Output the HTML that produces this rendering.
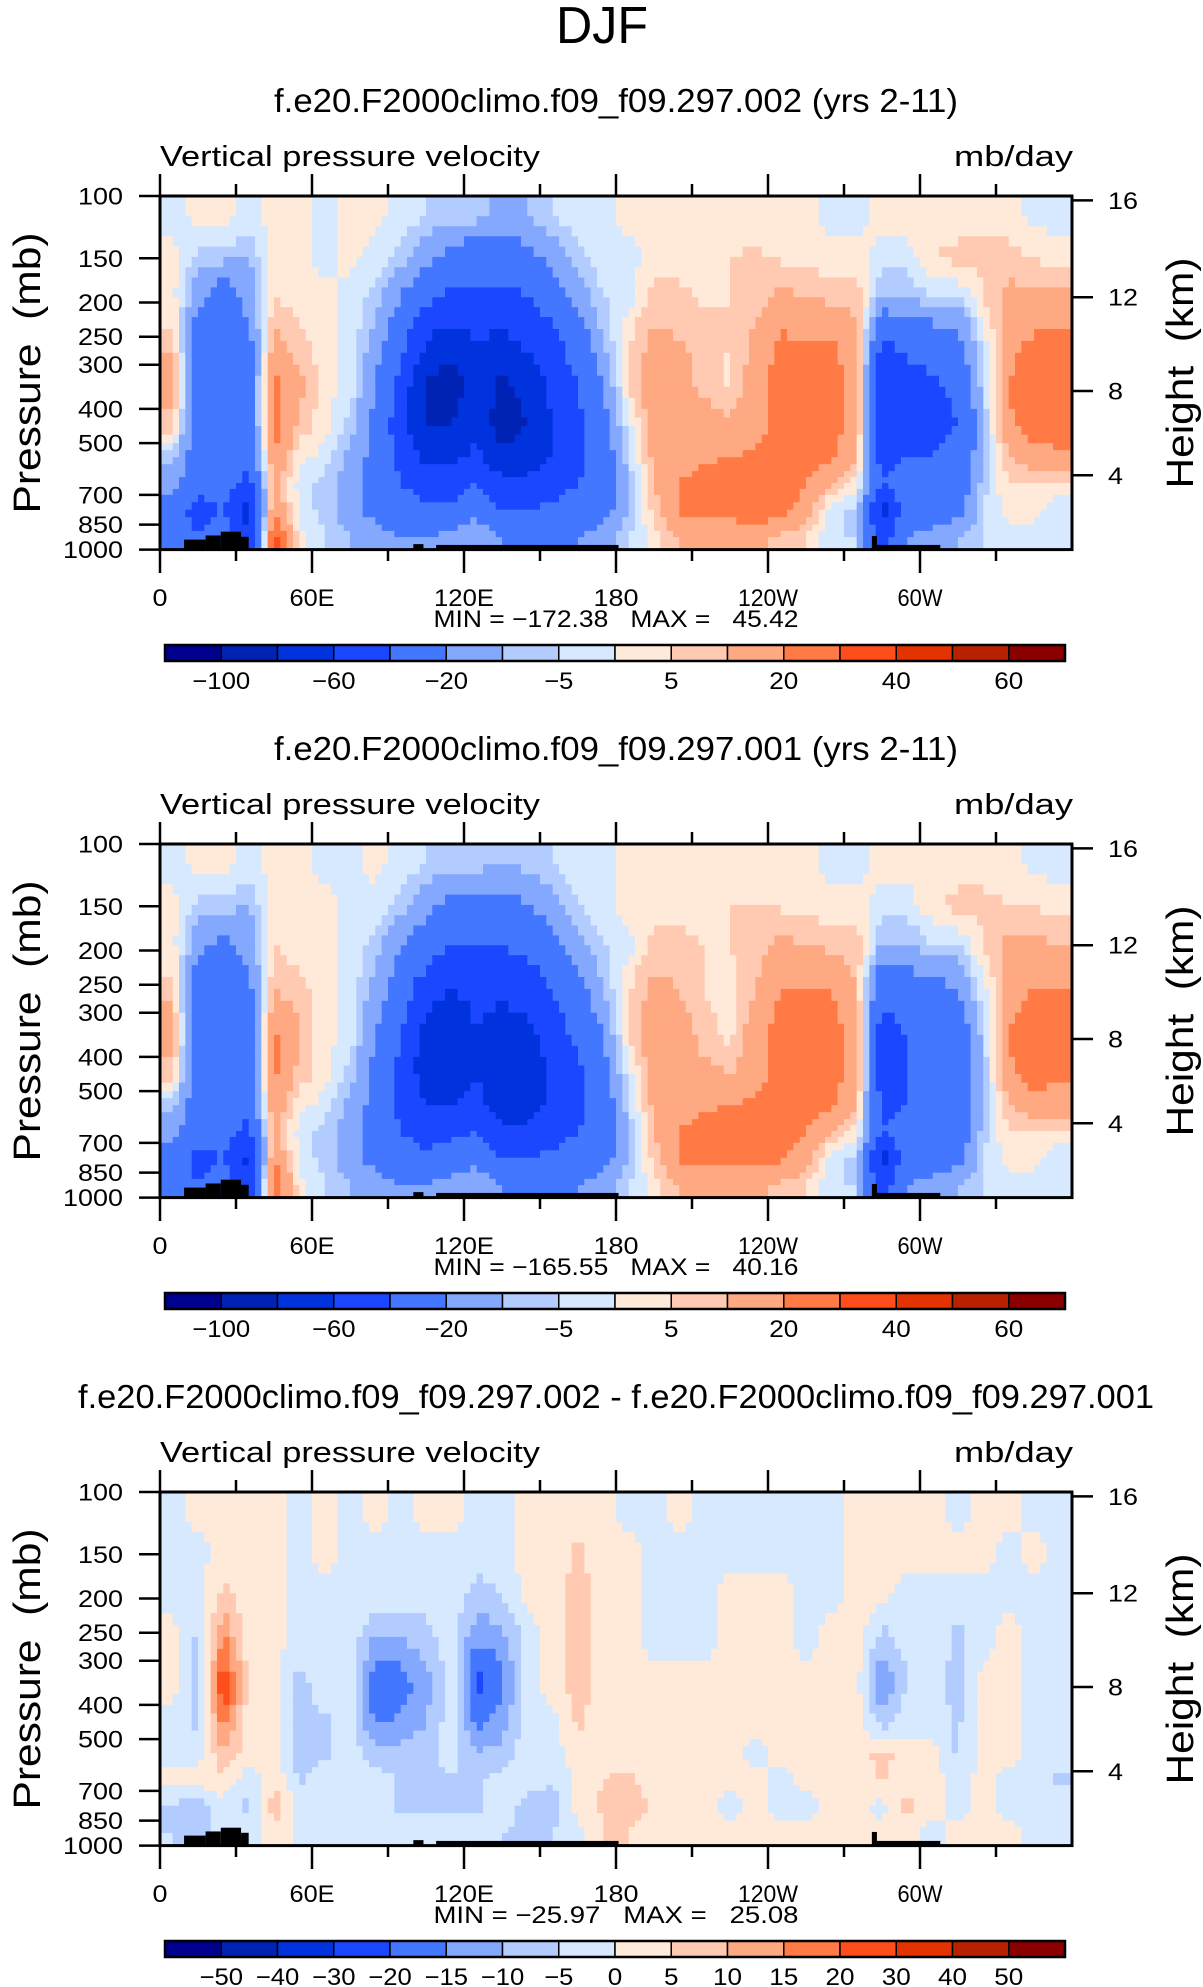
<!DOCTYPE html>
<html><head><meta charset="utf-8"><style>
html,body{margin:0;padding:0;background:#fff}
svg{display:block}
text{font-family:"Liberation Sans",sans-serif;fill:#000;white-space:pre}
</style></head><body>
<svg id="page" width="1203" height="1987" viewBox="0 0 1203 1987" xmlns="http://www.w3.org/2000/svg">
<text x="602" y="43" font-size="52" text-anchor="middle" textLength="92" lengthAdjust="spacingAndGlyphs">DJF</text>
</svg>
<script>
// ---------- data ----------
const lonTickValues = [0, 60, 120, 180, 240, 300];
const lonTickLabels = ["0", "60E", "120E", "180", "120W", "60W"];
const lonMinorTicks = [30, 90, 150, 210, 270, 330];
const pressureTicks = [100, 150, 200, 250, 300, 400, 500, 700, 850, 1000];
const heightTicks = [16, 12, 8, 4];
const rowPressureEdges = [100, 130, 170, 220, 300, 400, 500, 600, 700, 850, 1000];
const colorPalette = ["#00008f","#0022b5","#0033dd","#1a47ff","#4477ff","#85a8ff","#b3ccff","#d6e9ff","#ffe9d8","#ffcab1","#ffa982","#ff7a44","#ff4e1c","#e33300","#b82200","#8a0000"];
const levelsAbs = [-100,-80,-60,-40,-20,-10,-5,0,5,10,20,30,40,50,60];
const levelsAbsLabels = ["-100","","-60","","-20","","-5","","5","","20","","40","","60"];
const levelsDiff = [-50,-40,-30,-20,-15,-10,-5,0,5,10,15,20,30,40,50];
const levelsDiffLabels = ["-50","-40","-30","-20","-15","-10","-5","0","5","10","15","20","30","40","50"];
// topography segments: [lonStart, lonEnd, topPressure]
const topography = [[9.5,18,937],[18,24,912],[24,32,890],[32,35,920],[100,104,965],[109,181,970],[281,283,915],[283,308,970]];
const titles = ["f.e20.F2000climo.f09_f09.297.002 (yrs 2-11)","f.e20.F2000climo.f09_f09.297.001 (yrs 2-11)","f.e20.F2000climo.f09_f09.297.002 - f.e20.F2000climo.f09_f09.297.001"];
const minValues = ["-172.38","-165.55","-25.97"];
const maxValues = ["45.42","40.16","25.08"];
// field grids: 36 columns (10 deg) per pressure row, rows top(100mb) -> bottom(1000mb)
const field1 = [
[-2,2,2,-2,2,2,-2,2,2,-2,-5,-7,-7,-12,-10,-5,-2,-2,2,2,2,2,2,2,2,2,-2,-2,2,2,2,2,2,2,-2,-2],
[2,-7,-7,-10,2,2,-2,2,-2,-7,-15,-25,-30,-30,-25,-15,-7,-2,-2,2,2,2,5,6,4,3,2,3,-2,-2,5,7,7,7,5,2],
[2,-15,-30,-15,5,2,2,-2,-7,-20,-35,-45,-45,-45,-40,-30,-15,-5,-2,7,7,4,5,7,12,10,8,8,-10,-10,-5,-5,5,12,12,12],
[7,-30,-30,-25,12,7,2,-2,-12,-35,-60,-70,-60,-65,-55,-45,-30,-10,5,12,10,7,5,12,22,20,22,12,-40,-35,-30,-25,-2,15,22,22],
[15,-30,-30,-30,25,12,2,-2,-20,-45,-85,-90,-70,-85,-75,-55,-40,-20,5,15,15,7,4,15,25,25,25,15,-60,-45,-45,-35,-7,20,30,30],
[7,-30,-25,-30,25,8,2,-7,-25,-50,-80,-80,-65,-90,-80,-60,-45,-25,-2,15,15,15,12,15,25,25,25,15,-60,-45,-45,-40,-10,18,25,25],
[-7,-30,-30,-35,20,2,-2,-12,-25,-45,-65,-65,-55,-75,-70,-60,-45,-30,-5,12,15,18,20,22,25,25,22,10,-50,-40,-40,-35,-10,10,15,18],
[-15,-30,-30,-45,12,-2,-7,-15,-25,-40,-50,-50,-40,-55,-55,-50,-40,-35,-10,10,20,25,25,28,28,20,10,3,-40,-30,-30,-30,-7,5,5,5],
[-30,-50,-40,-70,20,-2,-7,-15,-25,-30,-35,-35,-25,-40,-40,-35,-30,-25,-10,7,22,25,25,28,25,15,-2,-7,-70,-25,-30,-25,-5,2,2,-5],
[-30,-40,-30,-60,35,2,-5,-10,-15,-20,-20,-15,-10,-20,-25,-25,-20,-15,-5,2,10,10,12,12,8,5,-5,-5,-50,-20,-15,-10,-5,-2,-2,-2]];
const field2 = [
[-2,2,2,-2,2,2,-2,-2,2,-2,-5,-7,-7,-10,-8,-5,-2,-2,2,2,2,2,2,2,2,2,-2,-2,2,2,2,2,2,2,-2,-2],
[2,-7,-7,-10,2,2,2,-2,-2,-7,-15,-25,-25,-25,-20,-12,-5,-2,2,2,2,3,5,5,4,3,2,3,-2,-2,3,7,7,5,5,2],
[2,-15,-25,-15,5,2,2,-2,-7,-20,-30,-40,-40,-40,-35,-25,-12,-5,-2,7,7,5,5,7,12,10,8,8,-10,-10,-5,-5,5,12,12,10],
[7,-30,-30,-25,10,7,2,-2,-12,-30,-50,-60,-55,-55,-50,-40,-25,-10,5,12,10,5,3,10,20,20,20,10,-35,-30,-25,-20,-2,15,20,20],
[15,-35,-30,-30,22,10,2,-2,-20,-40,-70,-75,-60,-70,-65,-50,-35,-20,5,15,15,7,3,15,25,25,25,15,-50,-40,-40,-30,-7,20,28,28],
[7,-30,-25,-30,22,8,2,-7,-25,-45,-70,-70,-60,-75,-75,-55,-45,-25,-2,15,15,12,10,15,25,25,25,15,-50,-40,-40,-35,-10,18,25,22],
[-7,-30,-30,-35,18,2,-2,-12,-25,-45,-60,-60,-55,-70,-70,-55,-45,-30,-5,12,15,18,20,22,25,25,22,10,-45,-40,-35,-30,-10,10,15,15],
[-15,-30,-30,-45,12,-2,-7,-15,-25,-40,-50,-45,-40,-55,-55,-50,-40,-35,-10,10,20,25,25,25,25,20,10,3,-40,-30,-30,-30,-7,5,5,5],
[-30,-45,-40,-65,20,-2,-7,-15,-25,-30,-35,-30,-25,-40,-40,-35,-30,-25,-10,7,22,25,25,25,22,15,-2,-7,-70,-25,-30,-25,-5,2,2,-5],
[-30,-40,-30,-60,30,2,-5,-10,-15,-20,-20,-15,-10,-20,-25,-25,-20,-15,-5,2,10,10,12,12,8,5,-5,-5,-50,-20,-15,-10,-5,-2,-2,-2]];
const field3 = [
[-2,2,2,2,2,-2,2,-2,2,-2,2,2,-2,-2,2,2,2,2,-2,-2,2,-2,-2,-2,-2,-2,-2,2,2,2,2,-2,2,2,-2,-2],
[-2,-2,2,2,2,-2,2,-2,-2,-2,-2,-2,-2,-2,2,2,6,2,2,-2,-2,-2,-2,-2,-2,-2,-2,2,2,2,2,2,2,-2,2,-2],
[-2,-2,6,2,2,-2,-2,-2,-2,-2,-2,-2,-7,-5,2,2,8,2,2,-2,-2,-2,2,2,2,-2,-2,2,2,-2,-2,-2,-2,-2,-2,-2],
[2,-6,16,2,2,-2,-2,-2,-10,-10,-7,-2,-14,-12,-2,2,8,2,2,-2,-2,-2,2,2,2,-2,2,2,-7,-2,-2,-6,-2,2,-2,-2],
[2,-8,26,3,2,-7,-2,-2,-20,-18,-12,-2,-22,-17,-2,2,8,2,2,2,2,2,2,2,2,2,2,2,-16,-5,-2,-8,2,2,-2,-2],
[-2,-6,18,2,2,-7,-6,-2,-16,-14,-10,-2,-17,-13,-2,-2,6,2,2,2,2,2,2,2,2,2,2,2,-8,-2,-2,-6,2,2,-2,-2],
[-2,-2,9,2,2,-7,-6,-2,-8,-8,-7,-2,-10,-8,-2,-2,2,2,3,2,2,2,2,-2,2,2,2,2,7,2,2,-6,2,2,-2,-2],
[2,2,4,-3,4,-6,-2,-2,-2,-6,-6,-6,-6,-3,-2,-5,2,5,6,2,2,2,2,2,-2,2,2,2,6,2,2,-2,2,-2,-2,-6],
[-6,-7,-2,-6,8,-2,-2,-2,-2,-6,-6,-6,-6,-2,-7,-7,2,6,8,4,2,2,-2,2,-2,-2,2,2,-2,7,2,-2,2,-2,-2,-2],
[-5,-7,-2,-3,4,-2,-2,-2,-2,-2,-2,-2,-2,-5,-6,-5,-2,5,5,2,2,2,2,2,2,2,2,2,2,2,-2,2,2,2,-2,-2]];
const fields = [field1, field2, field3];
const levelSets = [levelsAbs, levelsAbs, levelsDiff];
const levelLabelSets = [levelsAbsLabels, levelsAbsLabels, levelsDiffLabels];

// ---------- layout & rendering ----------
const NS = "http://www.w3.org/2000/svg";
const svg = document.getElementById("page");
const PL = 160, PR = 1072, PT = 196, PB = 549.6;
function xLon(lon){ return PL + (lon/360)*(PR-PL); }
function yP(p, dy){ return dy + PT + (PB-PT)*Math.log10(p/100); }
function pOfZ(km){ const z = km*1000; return z <= 11000 ? 1013.25*Math.pow(1-2.25577e-5*z, 5.25588) : 226.32*Math.exp(-(z-11000)/6341.6); }
function mk(tag, attrs, parent){ const e = document.createElementNS(NS, tag); for (const k in attrs) e.setAttribute(k, attrs[k]); (parent||svg).appendChild(e); return e; }
function classify(v, lev){ let c = 0; for (let i=0;i<lev.length;i++) if (v >= lev[i]) c = i+1; return c; }
function txt(s, x, y, size, anchor, len, parent){ const t = mk("text", {x:x, y:y, "font-size":size, "text-anchor":anchor||"start"}, parent); if (len) { t.setAttribute("textLength", len); t.setAttribute("lengthAdjust","spacingAndGlyphs"); } t.textContent = s; return t; }

for (let pi=0; pi<3; pi++){
  const dy = pi*648;
  const grid = fields[pi], lev = levelSets[pi];
  const panel = mk("g", {});
  
  

  const tt = txt(titles[pi], 616, dy+112, 33, "middle", pi===2 ? 1076 : 684, panel);
  
  
  const lt = txt("Vertical pressure velocity", 160, dy+166, 29, "start", 380, panel);
  
  
  const ut = txt("mb/day", 1073, dy+166, 29, "end", 119, panel);
  
  

  const fg = mk("g", {}, panel);
  
  
  const nC = grid[0].length, nR = grid.length, SX = 4, SY = 4;
  const rowCenters = [];
  for (let r=0;r<nR;r++) rowCenters.push((Math.log10(rowPressureEdges[r])+Math.log10(rowPressureEdges[r+1]))/2);
  function valAt(cf, lp){
    let c0 = Math.floor(cf-0.5); let tx = cf-0.5-c0;
    let ca = Math.max(0,Math.min(nC-1,c0)), cb = Math.max(0,Math.min(nC-1,c0+1));
    let r0 = 0; while (r0 < nR-2 && lp > rowCenters[r0+1]) r0++;
    let ty = (lp-rowCenters[r0])/(rowCenters[r0+1]-rowCenters[r0]); ty = Math.max(0,Math.min(1,ty));
    const a = grid[r0][ca]*(1-tx)+grid[r0][cb]*tx;
    const b = grid[r0+1][ca]*(1-tx)+grid[r0+1][cb]*tx;
    return a*(1-ty)+b*ty;
  }
  for (let r=0;r<nR;r++){
    const l0 = Math.log10(rowPressureEdges[r]), l1 = Math.log10(rowPressureEdges[r+1]);
    for (let sy=0; sy<SY; sy++){
      const la = l0+(l1-l0)*sy/SY, lb = l0+(l1-l0)*(sy+1)/SY, lm = (la+lb)/2;
      const ya = yP(Math.pow(10,la),dy), yb = yP(Math.pow(10,lb),dy);
      let runStart = 0, runCls = -1;
      const N = nC*SX;
      for (let i=0;i<=N;i++){
        const cls = i<N ? classify(valAt((i+0.5)/SX, lm), lev) : -2;
        if (cls !== runCls){
          if (runCls >= 0){
            const xa = xLon(runStart/N*360), xb = xLon(i/N*360);
            const rc = mk("rect", {x:xa.toFixed(2), y:ya.toFixed(2), width:(xb-xa+0.6).toFixed(2), height:(yb-ya+0.6).toFixed(2), fill:colorPalette[runCls]}, fg);
            
            
          }
          runStart = i; runCls = cls;
        }
      }
    }
  }
  topography.forEach(seg => {
    const xa = xLon(seg[0]), xb = xLon(seg[1]), ya = yP(seg[2], dy);
    const tr = mk("rect", {x:xa, y:ya, width:xb-xa, height:yP(1000,dy)-ya, fill:"#000"}, panel);
    
    
  });
  const fr = mk("rect", {x:PL, y:dy+PT, width:PR-PL, height:PB-PT, fill:"none", stroke:"#000", "stroke-width":3}, panel);
  
  

  const xa = mk("g", {}, panel);
  
  
  lonTickValues.forEach((lon,i) => {
    const x = xLon(lon);
    mk("line", {x1:x, x2:x, y1:dy+174, y2:dy+PT, stroke:"#000", "stroke-width":2.5}, xa);
    mk("line", {x1:x, x2:x, y1:dy+PB, y2:dy+573, stroke:"#000", "stroke-width":2.5}, xa);
    const w = lonTickLabels[i].length*15;
    const t = txt(lonTickLabels[i], x, dy+606, 24, "middle", w, xa);
    
    
  });
  lonMinorTicks.forEach(lon => {
    const x = xLon(lon);
    mk("line", {x1:x, x2:x, y1:dy+184, y2:dy+PT, stroke:"#000", "stroke-width":2.5}, xa);
    mk("line", {x1:x, x2:x, y1:dy+PB, y2:dy+561, stroke:"#000", "stroke-width":2.5}, xa);
  });
  const ya = mk("g", {}, panel);
  
  
  pressureTicks.forEach(p => {
    const y = yP(p, dy);
    mk("line", {x1:139, x2:PL, y1:y, y2:y, stroke:"#000", "stroke-width":2.5}, ya);
    const s = String(p);
    const t = txt(s, 123, y+8.5, 24, "end", s.length*15, ya);
    
    
  });
  const pt = txt("Pressure  (mb)", 0, 0, 38, "middle", 281, ya);
  pt.setAttribute("transform", "translate(40," + (dy+373) + ") rotate(-90)");
  
  
  const ha = mk("g", {}, panel);
  
  
  heightTicks.forEach(h => {
    const y = yP(pOfZ(h), dy);
    mk("line", {x1:PR, x2:1093, y1:y, y2:y, stroke:"#000", "stroke-width":2.5}, ha);
    const s = String(h);
    const t = txt(s, 1108, y+8.5, 24, "start", s.length*15, ha);
    
    
  });
  const htt = txt("Height  (km)", 0, 0, 38, "middle", 231, ha);
  htt.setAttribute("transform", "translate(1193," + (dy+373) + ") rotate(-90)");
  
  
  const mm = txt("MIN = " + minValues[pi].replace("-","\u2212") + "   MAX =   " + maxValues[pi], 616, dy+627, 24, "middle", 365, panel);
  
  
  const cb = mk("g", {}, panel);
  
  
  const CL = 165, CR = 1065, CT = dy+645, CH = 16, bw = (CR-CL)/colorPalette.length;
  colorPalette.forEach((c,i) => {
    const b = mk("rect", {x:CL+i*bw, y:CT, width:bw, height:CH, fill:c, stroke:"#000", "stroke-width":1.5}, cb);
    
    
  });
  mk("rect", {x:CL, y:CT, width:CR-CL, height:CH, fill:"none", stroke:"#000", "stroke-width":2.5}, cb);
  levelLabelSets[pi].forEach((s,i) => {
    if (!s) return;
    const t = txt(s.replace("-","\u2212"), CL+(i+1)*bw, dy+689, 24, "middle", s.length*14.5, cb);
    
    
  });
}
</script>
</body></html>
